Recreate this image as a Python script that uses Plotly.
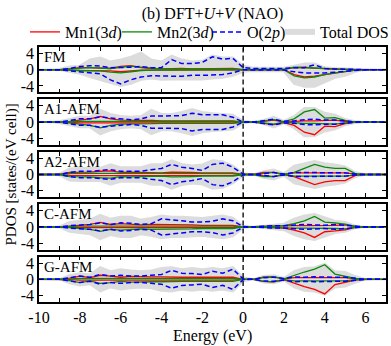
import plotly.graph_objects as go
from plotly.subplots import make_subplots

# energy grid (eV), -10 .. 7 in 0.5 steps
energy = [-10, -9.5, -9, -8.5, -8, -7.5, -7, -6.5, -6, -5.5, -5, -4.5, -4, -3.5, -3, -2.5,
          -2, -1.5, -1, -0.5, 0, 0.5, 1, 1.5, 2, 2.5, 3, 3.5, 4, 4.5, 5, 5.5, 6, 6.5, 7]

# FM: spin up / spin down read separately
fm_tot_up = [0, 0, 0.2, 0.8, 1.0, 2.5, 3.0, 2.0, 2.5, 3.2, 4.2, 2.5, 2.0, 3.5, 2.5, 2.0, 2.2, 3.5, 3.0, 3.0, 1.0, 0.5, 0.5, 0.5, 0.5, 1.0, 1.5, 1.5, 0.6, 0.4, 0.3, 0.1, 0, 0, 0]
fm_tot_dn = [0, 0, 0.1, 0.5, 1.0, 1.8, 2.5, 3.2, 4.0, 3.5, 2.5, 2.2, 2.5, 2.4, 2.4, 2.5, 2.4, 2.2, 2.0, 1.5, 0.5, 0.3, 0.3, 0.3, 0.4, 3.5, 4.2, 4.2, 3.2, 2.0, 1.5, 0.5, 0, 0, 0]
fm_o_up = [0, 0, 0.0, 0.3, 0.8, 1.0, 0.9, 0.5, 0.5, 0.6, 0.8, 0.5, 0.5, 2.5, 1.5, 1.5, 1.8, 3.2, 2.6, 2.8, 0.5, 0.3, 0.3, 0.3, 0.3, 0.5, 0.5, 1.2, 0.3, 0.2, 0.1, 0.0, 0, 0, 0]
fm_o_dn = [0, 0, 0.0, 0.3, 0.5, 0.8, 1.0, 2.5, 3.5, 2.5, 1.8, 1.5, 1.6, 1.6, 1.6, 1.4, 1.4, 1.3, 1.2, 0.8, 0.0, 0.1, 0.1, 0.1, 0.1, 0.5, 0.8, 0.8, 0.8, 0.6, 0.4, 0.1, 0, 0, 0]
fm_mn1_up = [0, 0, 0.0, 0.2, 0.5, 0.5, 0.4, 0.3, 0.8, 1.0, 0.6, 0.3, 0.2, 0.3, 0.3, 0.2, 0.2, 0.2, 0.3, 0.3, 0.0, 0.1, 0.1, 0.1, 0.1, 0.5, 0.6, 0.4, 0.2, 0.1, 0.1, 0.0, 0, 0, 0]
fm_mn1_dn = [0, 0, 0.0, 0.1, 0.2, 0.2, 0.2, 0.3, 0.5, 0.3, 0.1, 0.1, 0.1, 0.1, 0.1, 0.1, 0.1, 0.1, 0.1, 0.1, 0.0, 0.0, 0.0, 0.0, 0.0, 1.2, 1.8, 1.6, 1.2, 0.8, 0.5, 0.1, 0, 0, 0]
fm_mn2_up = [0, 0, 0.0, 0.2, 0.4, 0.5, 0.4, 0.3, 0.6, 0.9, 0.5, 0.3, 0.2, 0.2, 0.2, 0.2, 0.2, 0.2, 0.2, 0.2, 0.0, 0.1, 0.1, 0.1, 0.1, 0.6, 0.5, 0.4, 0.2, 0.1, 0.1, 0.0, 0, 0, 0]
fm_mn2_dn = [0, 0, 0.0, 0.1, 0.2, 0.3, 0.3, 0.6, 0.8, 0.5, 0.2, 0.1, 0.1, 0.1, 0.1, 0.1, 0.1, 0.1, 0.1, 0.1, 0.0, 0.0, 0.0, 0.0, 0.0, 1.5, 2.0, 1.8, 1.2, 0.8, 0.5, 0.1, 0, 0, 0]

# AFM orders: spin-symmetric; Mn1 majority = Mn2 minority channel
a1_tot = [0, 0, 0.2, 0.8, 1.3, 1.3, 3.0, 2.0, 1.5, 1.3, 1.5, 3.0, 2.0, 2.0, 2.5, 3.2, 2.5, 2.2, 2.0, 1.8, 0.3, 0.0, 0.5, 1.3, 0.3, 1.5, 3.5, 3.5, 2.3, 1.8, 0.8, 0.2, 0, 0, 0]
a1_o = [0, 0, 0.0, 0.4, 0.8, 0.8, 1.3, 1.0, 0.8, 0.6, 0.8, 1.5, 1.5, 1.5, 1.6, 2.2, 1.8, 1.8, 1.8, 1.2, 0.0, 0.0, 0.3, 0.7, 0.2, 0.3, 0.6, 0.7, 0.5, 0.5, 0.3, 0.0, 0, 0, 0]
a1_maj = [0, 0, 0.0, 0.2, 0.5, 0.8, 1.4, 0.8, 0.5, 0.5, 0.5, 0.4, 0.3, 0.3, 0.3, 0.3, 0.3, 0.3, 0.3, 0.3, 0.0, 0.0, 0.2, 0.5, 0.0, 0.2, 0.3, 0.3, 0.4, 0.5, 0.2, 0.0, 0, 0, 0]
a1_min = [0, 0, 0.0, 0.1, 0.2, 0.2, 0.3, 0.2, 0.2, 0.2, 0.2, 0.2, 0.2, 0.2, 0.2, 0.2, 0.2, 0.2, 0.2, 0.2, 0.0, 0.0, 0.3, 0.6, 0.1, 0.8, 2.5, 3.1, 1.0, 1.1, 0.4, 0.0, 0, 0, 0]

a2_tot = [0, 0, 0.2, 1.5, 1.6, 1.6, 1.6, 2.5, 1.8, 1.8, 1.8, 2.5, 2.5, 3.5, 2.6, 2.2, 2.5, 3.5, 3.3, 2.2, 0.3, 0.0, 0.8, 1.2, 0.3, 2.2, 2.8, 3.3, 2.8, 2.5, 2.0, 0.6, 0, 0, 0]
a2_o = [0, 0, 0.0, 0.5, 0.8, 0.8, 1.0, 1.2, 0.8, 0.8, 0.8, 1.2, 1.5, 2.5, 1.8, 1.5, 1.0, 2.5, 2.8, 1.8, 0.1, 0.0, 0.3, 0.5, 0.1, 0.5, 0.5, 0.5, 0.5, 0.5, 0.4, 0.1, 0, 0, 0]
a2_maj = [0, 0, 0.0, 0.5, 0.5, 0.6, 0.8, 0.9, 0.5, 0.6, 0.5, 0.5, 0.4, 0.6, 0.6, 0.5, 0.4, 0.4, 0.5, 0.4, 0.0, 0.0, 0.5, 0.5, 0.0, 0.4, 0.4, 0.4, 0.4, 0.4, 0.4, 0.1, 0, 0, 0]
a2_min = [0, 0, 0.0, 0.2, 0.3, 0.3, 0.3, 0.3, 0.3, 0.3, 0.3, 0.3, 0.2, 0.2, 0.2, 0.2, 0.2, 0.2, 0.2, 0.2, 0.0, 0.0, 0.3, 0.5, 0.0, 0.5, 1.5, 2.5, 1.8, 1.5, 1.5, 0.2, 0, 0, 0]

c_tot = [0, 0, 0.1, 1.2, 1.5, 1.8, 3.0, 2.0, 2.5, 2.5, 1.8, 2.2, 2.8, 2.5, 2.5, 2.4, 2.2, 2.5, 2.8, 2.3, 0.3, 0.0, 0.3, 0.5, 0.8, 2.0, 2.8, 3.2, 2.4, 1.5, 1.2, 0.3, 0, 0, 0]
c_o = [0, 0, 0.0, 0.3, 0.5, 0.6, 1.0, 0.6, 1.0, 0.9, 0.6, 0.8, 2.0, 1.8, 1.5, 1.2, 1.2, 1.4, 2.0, 1.5, 0.1, 0.0, 0.2, 0.3, 0.3, 0.4, 0.6, 0.5, 0.4, 0.6, 0.4, 0.1, 0, 0, 0]
c_maj = [0, 0, 0.0, 0.2, 0.4, 0.6, 1.1, 0.6, 0.8, 0.6, 0.5, 0.6, 0.6, 0.6, 0.5, 0.5, 0.4, 0.4, 0.4, 0.4, 0.0, 0.0, 0.1, 0.2, 0.3, 0.3, 0.3, 0.3, 0.3, 0.4, 0.5, 0.1, 0, 0, 0]
c_min = [0, 0, 0.0, 0.1, 0.2, 0.2, 0.3, 0.2, 0.2, 0.2, 0.2, 0.2, 0.2, 0.2, 0.2, 0.2, 0.2, 0.2, 0.2, 0.2, 0.0, 0.0, 0.1, 0.2, 0.3, 0.8, 1.5, 2.6, 1.2, 1.0, 0.7, 0.1, 0, 0, 0]

g_tot = [0, 0, 0.0, 1.0, 1.5, 1.2, 3.0, 2.0, 2.5, 2.2, 2.0, 2.2, 2.8, 3.0, 2.5, 2.8, 2.5, 2.8, 2.5, 3.0, 0.5, 0.0, 0.8, 1.0, 0.3, 2.0, 2.8, 3.0, 3.8, 2.0, 1.8, 0.8, 0, 0, 0]
g_o = [0, 0, 0.0, 0.4, 0.8, 0.5, 1.2, 0.8, 1.0, 0.8, 0.8, 1.0, 1.2, 2.2, 1.5, 1.4, 1.2, 2.0, 1.5, 2.5, 0.1, 0.0, 0.4, 0.5, 0.2, 0.6, 0.5, 0.6, 0.5, 0.5, 0.5, 0.2, 0, 0, 0]
g_maj = [0, 0, 0.0, 0.3, 0.8, 0.4, 1.0, 0.8, 0.5, 0.7, 0.6, 0.6, 0.6, 0.5, 0.5, 0.5, 0.5, 0.5, 0.5, 0.5, 0.0, 0.0, 0.5, 0.6, 0.1, 0.4, 0.4, 0.4, 0.4, 0.4, 0.4, 0.1, 0, 0, 0]
g_min = [0, 0, 0.0, 0.1, 0.2, 0.2, 0.3, 0.2, 0.2, 0.2, 0.2, 0.2, 0.2, 0.2, 0.2, 0.2, 0.2, 0.2, 0.2, 0.2, 0.0, 0.0, 0.5, 0.6, 0.1, 1.0, 1.8, 2.5, 3.6, 1.3, 0.8, 0.2, 0, 0, 0]

panel_names = ["FM", "A1-AFM", "A2-AFM", "C-AFM", "G-AFM"]

# per panel: (tot_up, tot_dn, mn1_up, mn1_dn, mn2_up, mn2_dn, o_up, o_dn)
panels = [
    (fm_tot_up, fm_tot_dn, fm_mn1_up, fm_mn1_dn, fm_mn2_up, fm_mn2_dn, fm_o_up, fm_o_dn),
    (a1_tot, a1_tot, a1_maj, a1_min, a1_min, a1_maj, a1_o, a1_o),
    (a2_tot, a2_tot, a2_maj, a2_min, a2_min, a2_maj, a2_o, a2_o),
    (c_tot, c_tot, c_maj, c_min, c_min, c_maj, c_o, c_o),
    (g_tot, g_tot, g_maj, g_min, g_min, g_maj, g_o, g_o),
]

FONT = "Liberation Serif"
RED, GREEN, BLUE, GRAY = "#ff0000", "#0a8a0a", "#0000ff", "#dcdcdc"
TOP, BOT = 47, 44
PLOT_H = 346 - TOP - BOT

fig = make_subplots(rows=5, cols=1, shared_xaxes=True, vertical_spacing=7 / PLOT_H)

for i, p in enumerate(panels):
    r = i + 1
    tu, td, m1u, m1d, m2u, m2d, ou, od = p
    for vals, sgn in [(tu, 1), (td, -1)]:
        fig.add_trace(go.Scatter(x=energy, y=[sgn * v for v in vals], mode="lines",
                                 line=dict(color=GRAY, width=2), fill="tozeroy",
                                 fillcolor=GRAY, showlegend=False, hoverinfo="skip"), row=r, col=1)
    specs = [(m1u, m1d, RED, "solid", "Mn1(3<i>d</i>)", "legend"),
             (m2u, m2d, GREEN, "solid", "Mn2(3<i>d</i>)", "legend2"),
             (ou, od, BLUE, "5px,3px", "O(2<i>p</i>)", "legend3")]
    for up, dn, col, dash, name, leg in specs:
        w = 1.5 if col == BLUE else 1.3
        fig.add_trace(go.Scatter(x=energy, y=up, mode="lines", name=name, legend=leg,
                                 line=dict(color=col, width=w, dash=dash),
                                 showlegend=(i == 0), legendgroup=name), row=r, col=1)
        fig.add_trace(go.Scatter(x=energy, y=[-v for v in dn], mode="lines", name=name,
                                 line=dict(color=col, width=w, dash=dash),
                                 showlegend=False, legendgroup=name), row=r, col=1)
    fig.add_annotation(text=panel_names[i], xref="x domain" if r == 1 else f"x{r} domain",
                       yref="y domain" if r == 1 else f"y{r} domain", x=0.01, y=1.0,
                       xanchor="left", yanchor="top", showarrow=False,
                       font=dict(family=FONT, size=15, color="black"))

# legend entry for total DOS
fig.add_trace(go.Scatter(x=[None], y=[None], mode="lines", name="Total DOS", legend="legend4",
                         line=dict(color=GRAY, width=6)), row=1, col=1)

fig.add_vline(x=0, line_dash="5px,3px", line_color="black", line_width=1.3, row="all", col=1)

xt = list(range(-10, 8))
fig.update_xaxes(range=[-10, 7], tickvals=xt, ticktext=[str(v) if v % 2 == 0 else "" for v in xt],
                 ticks="inside", ticklen=4, tickcolor="black", showline=True, mirror="allticks",
                 linecolor="black", linewidth=1.5, showgrid=False, zeroline=False,
                 tickfont=dict(family=FONT, size=16, color="black"))
fig.update_yaxes(range=[-5.6, 5.6], tickvals=[-4, 0, 4], ticktext=["-4", "0", "4"],
                 ticks="inside", ticklen=4, tickcolor="black", showline=True, mirror="allticks",
                 linecolor="black", linewidth=1.5, showgrid=False, zeroline=False,
                 tickfont=dict(family=FONT, size=16, color="black"))

fig.add_annotation(text="PDOS [states/(eV cell)]", xref="paper", yref="paper",
                   x=(11 - 39) / 347, y=0.5, xanchor="center", yanchor="middle",
                   textangle=-90, showarrow=False,
                   font=dict(family=FONT, size=15, color="black"))
fig.add_annotation(text="Energy (eV)", xref="paper", yref="paper",
                   x=0.5, y=-(336 - (346 - BOT)) / PLOT_H, yanchor="middle", showarrow=False,
                   font=dict(family=FONT, size=16, color="black"))

# one legend box per entry so the row fits like the reference
legend_x = {"legend": 25, "legend2": 117, "legend3": 207, "legend4": 280}
legends = {}
for key, px in legend_x.items():
    legends[key] = dict(orientation="h", x=px / 391, xref="container", xanchor="left",
                        y=1 - 32 / 346, yref="container", yanchor="middle",
                        font=dict(family=FONT, size=16, color="black"), itemwidth=30,
                        bgcolor="rgba(0,0,0,0)", borderwidth=0)

fig.update_layout(
    width=391, height=346,
    margin=dict(l=39, r=5, t=TOP, b=BOT, autoexpand=False),
    plot_bgcolor="white", paper_bgcolor="white",
    font=dict(family=FONT, size=15, color="black"),
    title=dict(text="(b) DFT+<i>U</i>+<i>V</i> (NAO)", x=0.5, xref="paper",
               y=1 - 13 / 346, yref="container", yanchor="middle",
               font=dict(family=FONT, size=16, color="black")),
    **legends,
)

fig.write_html("out.html", config={"displayModeBar": False},
               post_script="document.body.style.margin='0';")
